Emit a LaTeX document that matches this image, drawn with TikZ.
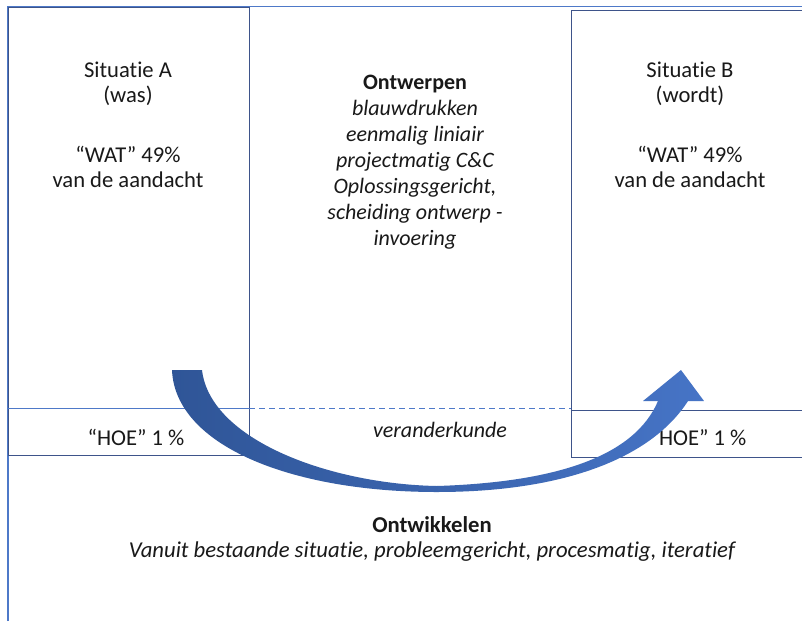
\documentclass[tikz,border=0pt]{standalone}
\usepackage{fontspec}
\setmainfont{Carlito}[RawFeature={-liga}]
\definecolor{frameblue}{RGB}{78,121,200}
\definecolor{boxline}{RGB}{62,84,138}
\definecolor{arrowdark}{RGB}{47,85,151}
\definecolor{arrowlight}{RGB}{70,116,198}
\definecolor{txt}{RGB}{25,25,25}
\begin{document}
\begin{tikzpicture}[x=1pt,y=-1pt,
  txtnode/.style={inner sep=0pt, outer sep=0pt, text=txt, align=center, anchor=base,
    font=\fontsize{22.6}{24.5}\selectfont},
  midnode/.style={txtnode, font=\fontsize{22}{26}\selectfont},
  boxl/.style={draw=boxline, line width=1pt},
  bluel/.style={draw=frameblue, line width=1pt}]
\useasboundingbox (0,0) rectangle (802,621);
\fill[white] (0,0) rectangle (802,621);
% outer frame
\draw[bluel, line width=1.6pt] (8,621) -- (8,6.5) -- (802,6.5);
% box A
\draw[boxl] (8,7) rectangle (249,455);
\draw[bluel] (8,408) -- (249,408);
\draw[bluel, dash pattern=on 6pt off 4pt] (249,408) -- (571,408);
% box B
\draw[boxl] (803,10) -- (571,10) -- (571,457) -- (803,457);
\draw[boxl] (571,410) -- (803,410);
% texts (base anchor = baseline of last line)
\node[txtnode] (sitA) at (128,102) {Situatie A\\(was)};
\node[txtnode] (watA) at (128,187) {“WAT” 49\%\\van de aandacht};
\node[txtnode] (sitB) at (690,102) {Situatie B\\(wordt)};
\node[txtnode] (watB) at (690,187) {“WAT” 49\%\\van de aandacht};
\node[midnode] (ontw) at (415,245) {\textbf{Ontwerpen}\\\itshape blauwdrukken\\\itshape eenmalig liniair\\\itshape projectmatig C\&C\\\itshape Oplossingsgericht,\\\itshape scheiding ontwerp -\\\itshape invoering};
\node[txtnode] (hoeA) at (136,445) {“HOE” 1 \%};
\node[txtnode] (hoeB) at (698,445) {“HOE” 1 \%};
\node[txtnode, font=\fontsize{22}{24.5}\selectfont\itshape] (verk) at (440,437) {veranderkunde};
\node[txtnode, font=\fontsize{22.7}{25}\selectfont] (ontwik) at (432,557) {\textbf{Ontwikkelen}\\\itshape Vanuit bestaande situatie, probleemgericht, procesmatig, iteratief};
% curved arrow
\shade[left color=arrowdark, right color=arrowlight]
  (172,370) .. controls (175,445) and (290,492) .. (437,492)
  .. controls (560,492) and (650,460) .. (688,401)
  -- (704,401) -- (681,370) -- (643,401) -- (658,401)
  .. controls (635,455) and (560,482) .. (437,486)
  .. controls (330,484) and (210,440) .. (202,370)
  -- cycle;
\end{tikzpicture}
\end{document}
